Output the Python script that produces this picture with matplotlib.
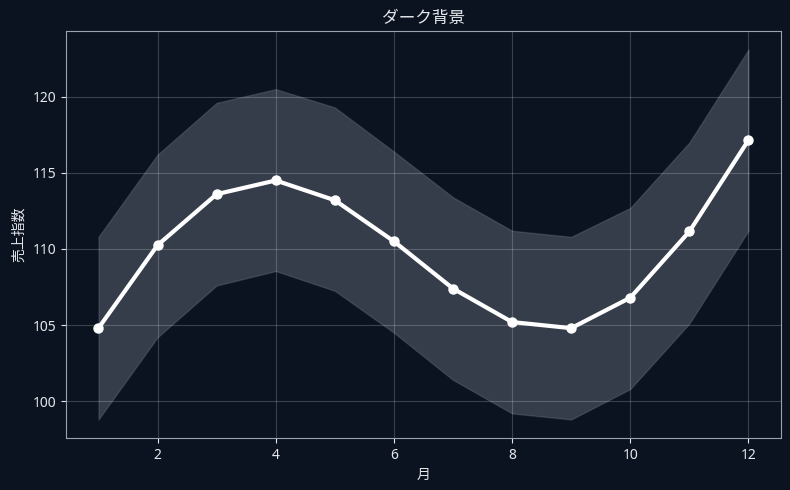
import numpy as np
import matplotlib.pyplot as plt

plt.rcParams['font.family'] = ['Noto Sans', 'Noto Sans CJK JP', 'DejaVu Sans']

months = np.arange(1, 13)
sales = [104.8, 110.25, 113.6, 114.5, 113.2, 110.5, 107.4, 105.2, 104.8, 106.8, 111.15, 117.15]
upper = [110.8, 116.2, 119.6, 120.5, 119.3, 116.4, 113.4, 111.2, 110.8, 112.7, 117.0, 123.1]
lower = [98.8, 104.2, 107.6, 108.55, 107.25, 104.5, 101.4, 99.2, 98.8, 100.8, 105.1, 111.2]

bg = '#0b1220'
fg = '#e5e7eb'

fig, ax = plt.subplots(figsize=(7.9, 4.9), dpi=100)
fig.patch.set_facecolor(bg)
ax.set_facecolor(bg)

# band around the index
ax.fill_between(months, lower, upper, color='#cbd5e1', alpha=0.22, edgecolor='#94a3b8', linewidth=1)
ax.plot(months, sales, color='white', linewidth=3, marker='o', markersize=6.5)

ax.grid(True, color='white', alpha=0.2, linewidth=0.8)
for s in ax.spines.values():
    s.set_color('#9ca3af')
ax.tick_params(colors=fg, labelsize=10)
ax.set_title('ダーク背景', color=fg, fontsize=12)
ax.set_xlabel('月', color=fg)
ax.set_ylabel('売上指数', color=fg)

fig.subplots_adjust(left=0.0835, right=0.9886, top=0.9367, bottom=0.1061)
fig.savefig('out.png', facecolor=bg)
